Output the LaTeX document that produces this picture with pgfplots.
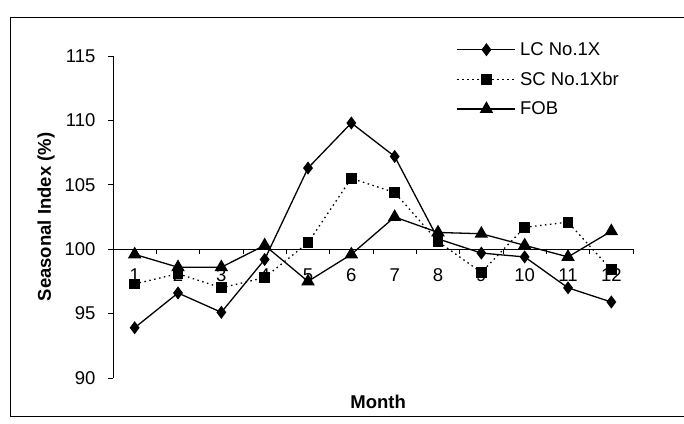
\documentclass[border=0pt]{standalone}
\usepackage{pgfplots}
\pgfplotsset{compat=1.18}
\usepackage{fontspec}
\setmainfont{Liberation Sans}
\begin{document}
\begin{tikzpicture}
\useasboundingbox (-113pt,-45pt) rectangle (571pt,378pt);
\begin{axis}[
  at={(0pt,0pt)}, anchor=south west,
  scale only axis, width=520pt, height=322pt,
  xmin=0.5, xmax=12.5, ymin=90, ymax=115,
  axis y line*=left, axis x line*=bottom,
  axis x line shift=-128.8pt,
  xtick={1,...,12},
  minor xtick={0.5,1.5,...,12.5},
  major x tick style={draw=none},
  minor tick length=5pt,
  ytick={90,95,...,115},
  major tick length=5pt,
  tick align=outside,
  /pgf/number format/assume math mode=true,
  ticklabel style={font=\fontsize{18.5}{20}\selectfont},
  xticklabel style={yshift=-11pt},
  yticklabel style={xshift=-9pt},
  axis line style={line width=0.8pt},
  every tick/.style={black, line width=0.8pt},
  clip=false,
  legend style={at={(0.655,1.055)}, anchor=north west, draw=none, fill=none,
    font=\fontsize{18.5}{20}\selectfont, row sep=11pt,
    legend cell align=left, nodes={inner xsep=4pt}},
  legend image code/.code={\draw[mark repeat=2,mark phase=2,#1] plot coordinates {(0pt,0pt) (29pt,0pt) (58pt,0pt)};},
]
\addplot[black, line width=1.3pt, mark=diamond*, mark size=5.5pt, mark options={solid}] coordinates {
(1,93.9) (2,96.6) (3,95.1) (4,99.2) (5,106.3) (6,109.8) (7,107.2) (8,100.8) (9,99.7) (10,99.4) (11,97.0) (12,95.9)};
\addlegendentry{LC No.1X}
\addplot[black, line width=1.3pt, dash pattern=on 1.5pt off 3.5pt, mark=square*, mark size=4.8pt, mark options={solid}] coordinates {
(1,97.3) (2,98.1) (3,97.0) (4,97.8) (5,100.5) (6,105.5) (7,104.4) (8,100.6) (9,98.2) (10,101.7) (11,102.1) (12,98.4)};
\addlegendentry{SC No.1Xbr}
\addplot[black, line width=1.3pt, mark=triangle*, mark size=6.5pt, mark options={solid}] coordinates {
(1,99.6) (2,98.6) (3,98.6) (4,100.3) (5,97.5) (6,99.6) (7,102.5) (8,101.3) (9,101.2) (10,100.3) (11,99.4) (12,101.4)};
\addlegendentry{FOB}
\node[font=\bfseries\fontsize{18.5}{20}\selectfont] at (rel axis cs:0.51,0) [yshift=-24pt] {Month};
\path (rel axis cs:0,0.5) ++(-67pt,0pt) node[rotate=90, font=\bfseries\fontsize{18.5}{20}\selectfont] {Seasonal Index (\%)};
\end{axis}
\draw[line width=0.9pt] (580pt,361pt) -- (-103pt,361pt) -- (-103pt,-38pt) -- (580pt,-38pt);
\end{tikzpicture}
\end{document}
